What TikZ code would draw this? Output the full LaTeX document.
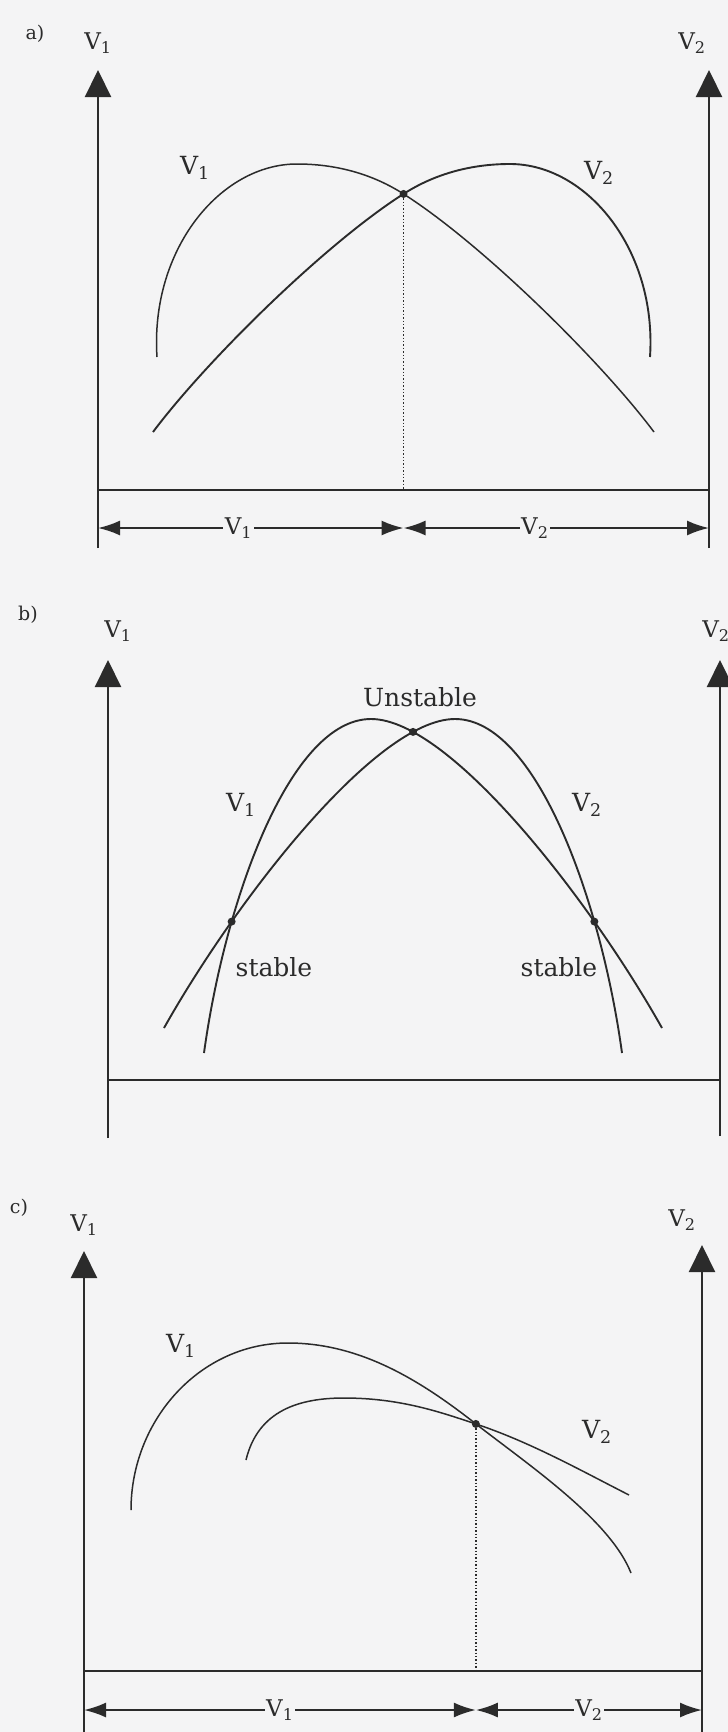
\documentclass[tikz,border=0pt]{standalone}
\usepackage{fontspec}
\setmainfont{DejaVu Serif}
\usepackage{tikz}
\usetikzlibrary{arrows.meta,intersections}
\definecolor{PaperGray}{HTML}{F4F4F5}
\definecolor{InkDark}{HTML}{2B2B2B}
\tikzset{
  axisline/.style={-{Triangle[length=27pt,width=26pt]},line width=2.2pt,draw=InkDark},
  groundline/.style={line width=2.2pt,draw=InkDark},
  curvethin/.style={line width=1.5pt,draw=InkDark},
  curvethick/.style={line width=1.9pt,draw=InkDark},
  dimline/.style={{Latex[length=22pt,width=15pt]}-{Latex[length=22pt,width=15pt]},line width=2pt,draw=InkDark},
  dimlabel/.style={fill=PaperGray,inner sep=1.5pt,text=InkDark,font=\fontsize{23}{25}\selectfont},
  axislabel/.style={inner sep=1pt,text=InkDark,font=\fontsize{23}{25}\selectfont},
  wordlabel/.style={inner sep=1pt,text=InkDark,font=\fontsize{25}{27}\selectfont},
  panellabel/.style={inner sep=1pt,text=InkDark,font=\fontsize{19}{21}\selectfont},
  dropline/.style={dotted,line width=1.4pt,draw=InkDark},
  crossdot/.style={circle,fill=InkDark,inner sep=0pt,minimum size=8pt}
}
\begin{document}
\begin{tikzpicture}[x=1pt,y=-1pt]
\useasboundingbox (0,0) rectangle (728,1732);
\fill[PaperGray] (0,0) rectangle (728,1732);
% a)
\node[panellabel] (alab) at (35,34) {a)};
\node[axislabel] (av1lab) at (98,43) {V\textsubscript{1}};
\node[axislabel] (av2lab) at (692,43) {V\textsubscript{2}};
\coordinate (aleftbot) at (98,548);
\coordinate (alefttop) at (98,70);
\coordinate (arightbot) at (709,548);
\coordinate (arighttop) at (709,70);
\coordinate (aground) at (98,490);
\coordinate (adim) at (98,528);
\draw[axisline] (aleftbot) -- (alefttop);
\draw[axisline] (arightbot) -- (arighttop);
\draw[groundline] (aground) -- (aground -| arightbot);
\draw[curvethin,name path=av1] (157,357) .. controls (150,250) and (220,164) .. (297,164)
  .. controls (340,164) and (375,176) .. (402,193)
  .. controls (480,242) and (600,360) .. (654,432);
\draw[curvethick,name path=av2] (650,357) .. controls (657,250) and (587,164) .. (510,164)
  .. controls (467,164) and (432,176) .. (405,193)
  .. controls (327,242) and (207,360) .. (153,432);
\path[name intersections={of=av1 and av2,by=across}];
\node[crossdot] (adot) at (across) {};
\draw[dropline] (adot) -- (across |- aground);
\node[wordlabel] (ac1lab) at (195,168) {V\textsubscript{1}};
\node[wordlabel] (ac2lab) at (599,173) {V\textsubscript{2}};
\draw[dimline] (adim) -- node[dimlabel,pos=0.46] (ad1lab) {V\textsubscript{1}} (across |- adim);
\draw[dimline] (across |- adim) -- node[dimlabel,pos=0.43] (ad2lab) {V\textsubscript{2}} (adim -| arightbot);
% b)
\node[panellabel] (blab) at (28,615) {b)};
\node[axislabel] (bv1lab) at (118,631) {V\textsubscript{1}};
\node[axislabel] (bv2lab) at (716,631) {V\textsubscript{2}};
\coordinate (bleftbot) at (108,1138);
\coordinate (blefttop) at (108,660);
\coordinate (brightbot) at (720,1136);
\coordinate (brighttop) at (720,660);
\coordinate (bground) at (108,1080);
\draw[axisline] (bleftbot) -- (blefttop);
\draw[axisline] (brightbot) -- (brighttop);
\draw[groundline] (bground) -- (bground -| brightbot);
\draw[curvethick,name path=bv1] (204,1053) .. controls (225,900) and (290,719) .. (371,719)
  .. controls (450,719) and (590,900) .. (662,1028);
\draw[curvethick,name path=bv2] (622,1053) .. controls (601,900) and (536,719) .. (455,719)
  .. controls (376,719) and (236,900) .. (164,1028);
\path[name intersections={of=bv1 and bv2,by={bstabl,bunst,bstabr},sort by=bv1}];
\node[crossdot] (bdotl) at (bstabl) {};
\node[crossdot] (bdotu) at (bunst) {};
\node[crossdot] (bdotr) at (bstabr) {};
\node[wordlabel] (bunlab) at (420,697) {Unstable};
\node[wordlabel] (bc1lab) at (241,805) {V\textsubscript{1}};
\node[wordlabel] (bc2lab) at (587,805) {V\textsubscript{2}};
\node[wordlabel] (bstl) at (274,967) {stable};
\node[wordlabel] (bstr) at (559,967) {stable};
% c)
\node[panellabel] (clab) at (19,1208) {c)};
\node[axislabel] (cv1lab) at (84,1225) {V\textsubscript{1}};
\node[axislabel] (cv2lab) at (682,1220) {V\textsubscript{2}};
\coordinate (cleftbot) at (84,1732);
\coordinate (clefttop) at (84,1251);
\coordinate (crightbot) at (702,1732);
\coordinate (crighttop) at (702,1245);
\coordinate (cground) at (84,1671);
\coordinate (cdim) at (84,1710);
\draw[axisline] (cleftbot) -- (clefttop);
\draw[axisline] (crightbot) -- (crighttop);
\draw[groundline] (cground) -- (cground -| crightbot);
\draw[curvethin,name path=cv1] (131,1510) .. controls (131,1420) and (200,1343) .. (288,1343)
  .. controls (360,1343) and (420,1380) .. (476,1424)
  .. controls (530,1466) and (610,1520) .. (631,1573);
\draw[curvethin,name path=cv2] (246,1460) .. controls (258,1410) and (300,1398) .. (344,1398)
  .. controls (400,1398) and (440,1412) .. (476,1424)
  .. controls (530,1442) and (580,1470) .. (629,1495);
\path[name intersections={of=cv1 and cv2,by=ccross}];
\node[crossdot] (cdot) at (ccross) {};
\draw[dropline] (cdot) -- (ccross |- cground);
\node[wordlabel] (cc1lab) at (181,1346) {V\textsubscript{1}};
\node[wordlabel] (cc2lab) at (597,1432) {V\textsubscript{2}};
\draw[dimline] (cdim) -- node[dimlabel,pos=0.5] (cd1lab) {V\textsubscript{1}} (ccross |- cdim);
\draw[dimline] (ccross |- cdim) -- node[dimlabel,pos=0.5] (cd2lab) {V\textsubscript{2}} (cdim -| crightbot);
\end{tikzpicture}
\end{document}
